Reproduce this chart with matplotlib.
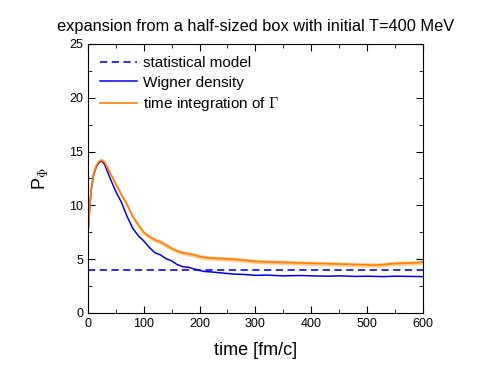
import matplotlib
matplotlib.use("Agg")
import matplotlib.pyplot as plt
import numpy as np
from matplotlib.ticker import MultipleLocator

plt.rcParams['font.family'] = ['Liberation Sans', 'DejaVu Sans']
plt.rcParams['mathtext.fontset'] = 'cm'

# statistical model (constant)
stat_value = 3.95

# Wigner density
t_wig = [0, 3, 6, 10, 15, 20, 25, 30, 40, 50, 60, 70, 80, 90, 100, 110, 120, 130, 140,
         150, 160, 170, 180, 190, 200, 210, 220, 240, 260, 280, 300, 320, 350, 380, 400,
         430, 450, 480, 500, 530, 550, 580, 600]
p_wig = [7.3, 9.6, 11.5, 12.8, 13.6, 14.0, 14.15, 13.8, 12.5, 11.3, 10.3, 9.0, 7.9, 7.2,
         6.7, 6.1, 5.6, 5.4, 5.05, 4.85, 4.5, 4.3, 4.25, 4.1, 3.95, 3.85, 3.82, 3.72, 3.62,
         3.58, 3.5, 3.52, 3.45, 3.48, 3.45, 3.42, 3.45, 3.4, 3.42, 3.38, 3.42, 3.4, 3.38]

# time integration of Gamma
t_gam = [0, 3, 6, 10, 15, 20, 25, 30, 40, 50, 60, 70, 80, 90, 100, 110, 120, 130, 140,
         150, 160, 170, 180, 190, 200, 210, 220, 240, 260, 280, 300, 320, 350, 380, 400,
         430, 450, 480, 500, 520, 550, 580, 600]
p_gam = [7.3, 9.6, 11.5, 12.8, 13.7, 14.1, 14.2, 14.0, 13.0, 12.0, 11.0, 10.1, 9.0, 8.2,
         7.5, 7.1, 6.8, 6.6, 6.3, 6.0, 5.75, 5.6, 5.5, 5.4, 5.25, 5.15, 5.1, 5.05, 5.0,
         4.9, 4.8, 4.75, 4.7, 4.65, 4.62, 4.58, 4.55, 4.5, 4.47, 4.45, 4.6, 4.65, 4.72]
gam_err = 0.2

fig = plt.figure(figsize=(4.91, 3.76), dpi=100)
ax = fig.add_axes([0.179, 0.1676, 0.682, 0.7154])

ax.axhline(stat_value, color="#1a1aff", linestyle=(0, (4, 2.5)), linewidth=1.3,
           label="statistical model")
ax.plot(t_wig, p_wig, color="#0000ee", linewidth=1.1, label="Wigner density")
p_gam = np.array(p_gam)
ax.fill_between(t_gam, p_gam - gam_err, p_gam + gam_err, color="#ff8c1a", alpha=0.45,
                linewidth=0)
ax.plot(t_gam, p_gam, color="#ff7f00", linewidth=1.2,
        label=r"time integration of $\Gamma$")

ax.set_xlim(0, 600)
ax.set_ylim(0, 25)
ax.xaxis.set_major_locator(MultipleLocator(100))
ax.xaxis.set_minor_locator(MultipleLocator(50))
ax.yaxis.set_major_locator(MultipleLocator(5))
ax.yaxis.set_minor_locator(MultipleLocator(2.5))
ax.tick_params(which="both", direction="in", top=True, right=True, labelsize=9)
ax.tick_params(which="major", length=5)
ax.tick_params(which="minor", length=3)

ax.set_xlabel("time [fm/c]", fontsize=13, labelpad=9)
ax.set_ylabel(r"P$_\Phi$", fontsize=13, labelpad=14)
ax.set_title("expansion from a half-sized box with initial T=400 MeV", fontsize=11.8,
             pad=9)

ax.legend(loc="upper left", frameon=False, fontsize=11, handlelength=2.4,
          handletextpad=0.4, labelspacing=0.35, borderaxespad=0.4,
          bbox_to_anchor=(0.0, 1.0))

fig.savefig("out.png", dpi=100)
